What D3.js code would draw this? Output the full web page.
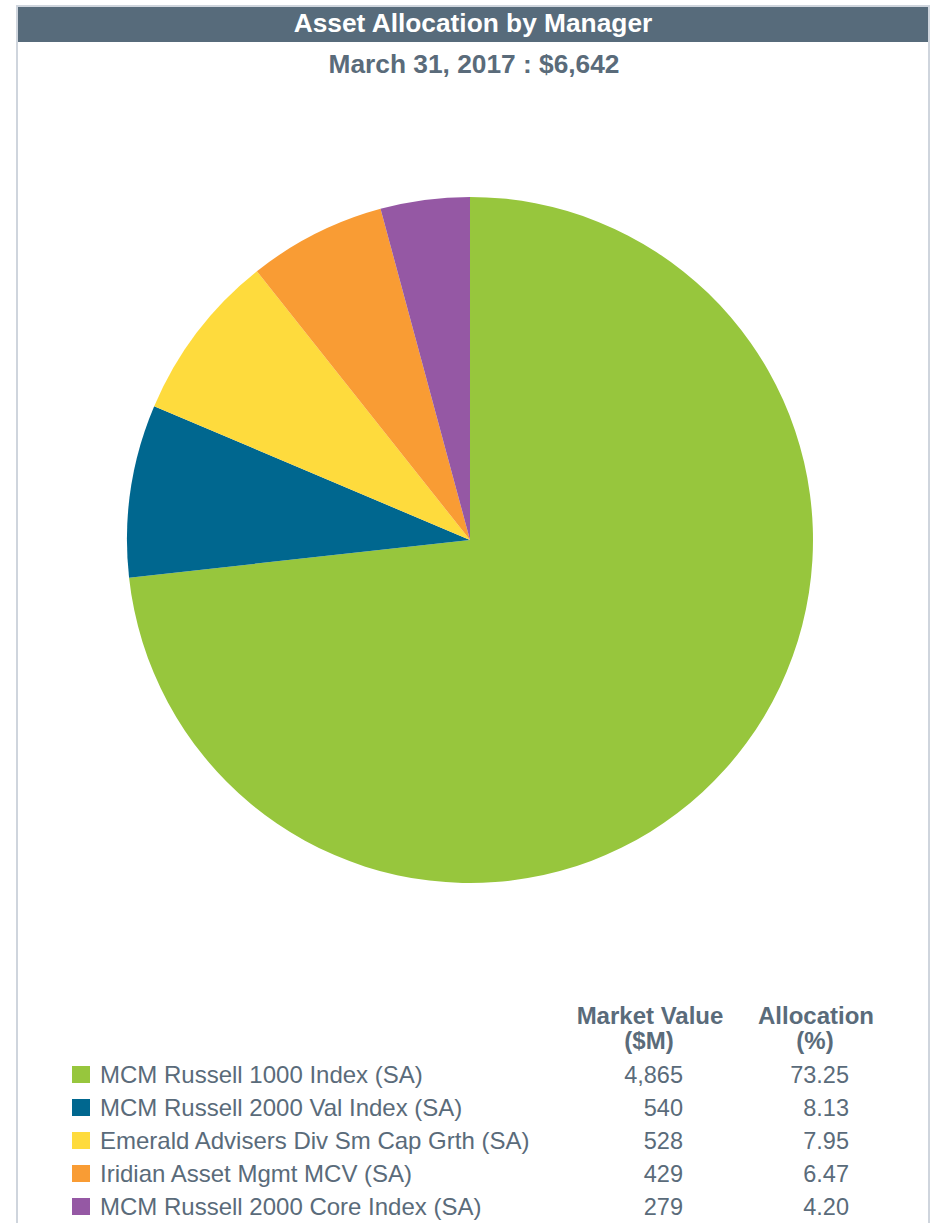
<!DOCTYPE html>
<html>
<head>
<meta charset="utf-8">
<script src="https://cdn.jsdelivr.net/npm/d3@7"></script>
<style>
  body { margin: 0; background: #fff; }
  text { font-family: "Liberation Sans", Arial, sans-serif; }
</style>
</head>
<body>
<script>
var managers = [
    "MCM Russell 1000 Index (SA)",
    "MCM Russell 2000 Val Index (SA)",
    "Emerald Advisers Div Sm Cap Grth (SA)",
    "Iridian Asset Mgmt MCV (SA)",
    "MCM Russell 2000 Core Index (SA)"
];
var marketValues = [4865, 540, 528, 429, 279];
var allocations = [73.25, 8.13, 7.95, 6.47, 4.20];
var sliceColors = ["#97c63d", "#00678f", "#fedb3d", "#f99c34", "#9558a4"];

var title = "Asset Allocation by Manager";
var subtitle = "March 31, 2017 : $6,642";

var width = 934, height = 1223;
var textColor = "#5a6b7a";

var svg = d3.select("body").append("svg")
    .attr("width", width)
    .attr("height", height);

// frame + header bar
svg.append("rect")
    .attr("x", 17).attr("y", 6)
    .attr("width", 912).attr("height", 1240)
    .attr("fill", "none")
    .attr("stroke", "#cfd5dd")
    .attr("stroke-width", 2);

svg.append("rect")
    .attr("x", 18).attr("y", 7)
    .attr("width", 910).attr("height", 35)
    .attr("fill", "#576b7b");

svg.append("text")
    .attr("x", 473).attr("y", 31.5)
    .attr("text-anchor", "middle")
    .attr("fill", "#fff")
    .attr("font-size", 26.3)
    .attr("font-weight", "bold")
    .text(title);

svg.append("text")
    .attr("x", 474).attr("y", 73)
    .attr("text-anchor", "middle")
    .attr("fill", textColor)
    .attr("font-size", 26.3)
    .attr("font-weight", "bold")
    .text(subtitle);

// pie
var cx = 470, cy = 540, radius = 343;

var pie = d3.pie().sort(null).value(function(d) { return d; });
var arc = d3.arc().innerRadius(0).outerRadius(radius);

var color = d3.scaleOrdinal().domain(d3.range(managers.length)).range(sliceColors);

svg.append("g")
    .attr("transform", "translate(" + cx + "," + cy + ")")
    .selectAll("path")
    .data(pie(allocations)).enter()
    .append("path")
    .attr("d", arc)
    .attr("fill", function(d, i) { return color(i); });

// table legend
var rowY = d3.scalePoint().domain(d3.range(managers.length)).range([1083, 1215]);
var mvX = 683, allocX = 849;

svg.append("text")
    .attr("x", 650).attr("y", 1024)
    .attr("text-anchor", "middle").attr("fill", textColor)
    .attr("font-size", 24).attr("font-weight", "bold")
    .text("Market Value");
svg.append("text")
    .attr("x", 649).attr("y", 1049)
    .attr("text-anchor", "middle").attr("fill", textColor)
    .attr("font-size", 24).attr("font-weight", "bold")
    .text("($M)");
svg.append("text")
    .attr("x", 816).attr("y", 1024)
    .attr("text-anchor", "middle").attr("fill", textColor)
    .attr("font-size", 24).attr("font-weight", "bold")
    .text("Allocation");
svg.append("text")
    .attr("x", 815).attr("y", 1049)
    .attr("text-anchor", "middle").attr("fill", textColor)
    .attr("font-size", 24).attr("font-weight", "bold")
    .text("(%)");

var rows = svg.selectAll(".row")
    .data(managers).enter()
    .append("g")
    .attr("class", "row");

rows.append("rect")
    .attr("x", 72)
    .attr("y", function(d, i) { return rowY(i) - 17; })
    .attr("width", 18).attr("height", 17)
    .attr("fill", function(d, i) { return color(i); });

rows.append("text")
    .attr("x", 100)
    .attr("y", function(d, i) { return rowY(i); })
    .attr("fill", textColor).attr("font-size", 24)
    .text(function(d) { return d; });

rows.append("text")
    .attr("x", mvX)
    .attr("y", function(d, i) { return rowY(i); })
    .attr("text-anchor", "end")
    .attr("fill", textColor).attr("font-size", 23.5)
    .text(function(d, i) { return d3.format(",")(marketValues[i]); });

rows.append("text")
    .attr("x", allocX)
    .attr("y", function(d, i) { return rowY(i); })
    .attr("text-anchor", "end")
    .attr("fill", textColor).attr("font-size", 23.5)
    .text(function(d, i) { return d3.format(".2f")(allocations[i]); });
</script>
</body>
</html>
